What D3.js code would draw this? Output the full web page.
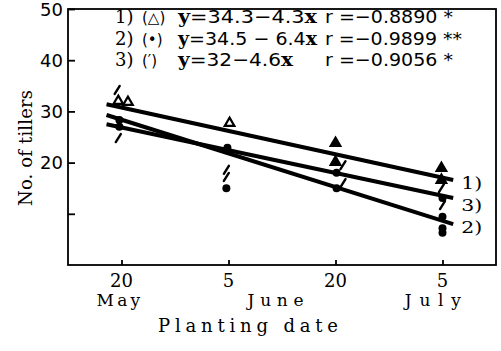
<!DOCTYPE html>
<html>
<head>
<meta charset="utf-8">
<script src="https://cdn.jsdelivr.net/npm/d3@7"></script>
<style>
  body{margin:0;background:#fff;}
  svg{display:block;}
  .lbl{font-family:"DejaVu Serif","Liberation Serif",serif;fill:#000;}
  .num{font-family:"DejaVu Sans","Liberation Sans",sans-serif;fill:#000;}
</style>
</head>
<body>
<div id="chart"></div>
<script>
// planting dates (period index) and labels
var dateTicks=[1,2,3,4]
var dayLabels=["20","5","20","5"]
var monthLabels=[{t:"May",x:0.97},{t:"June",x:2.44},{t:"July",x:3.91}]
var yTicks=[10,20,30,40,50]
var yLabels=["","20","30","40","50"]

// fitted lines as drawn (start / end)
var lineIds=["1)","2)","3)"]
var lineX=[0.86,4.1]
var line1=[31.4,16.6]
var line2=[29.3,8.0]
var line3=[27.5,13.1]

// observed points: triangles (1), dots (2), ticks (3)
var triPts=[[0.97,32.0],[1.06,31.8],[2.01,27.7],[3.0,23.8],[3.0,20.1],[3.99,18.9],[3.99,16.6]]
var triHollow=[true,true,true,false,false,false,false]
var dotPts=[[0.98,28.3],[0.98,27.0],[1.99,22.9],[1.98,15.0],[3.01,18.0],[3.01,15.0],[4.0,13.1],[4.0,9.4],[4.0,7.2],[4.0,6.3]]
var tickPts=[[0.96,34.2],[0.97,24.8],[1.98,18.6],[1.98,17.2],[3.07,19.5],[3.07,16.0],[3.99,15.0],[4.0,11.7]]

var legendRows=[
  {id:"1)",mk:"(\u25B3)",eq:"34.3\u22124.3",r:"r =\u22120.8890 *"},
  {id:"2)",mk:"(\u2022)",eq:"34.5 \u2212 6.4",r:"r =\u22120.9899 **"},
  {id:"3)",mk:"(\u2032)",eq:"32\u22124.6",r:"r =\u22120.9056 *"}
]

var W=501,H=351
var m={l:68,r:5,t:9,b:86}
var svg=d3.select("#chart").append("svg").attr("width",W).attr("height",H)

var x=d3.scaleLinear().domain([0.5,4.5]).range([m.l,W-m.r])
var y=d3.scaleLinear().domain([0,50]).range([H-m.b,m.t])

// frame
svg.append("rect").attr("x",x(0.5)).attr("y",y(50)).attr("width",x(4.5)-x(0.5)).attr("height",y(0)-y(50))
  .attr("fill","none").attr("stroke","#000").attr("stroke-width",1.8)

// y axis (ticks inward)
var yAx=svg.append("g").attr("transform",`translate(${x(0.5)},0)`)
  .call(d3.axisRight(y).tickValues(yTicks).tickSize(7).tickFormat(""))
yAx.select(".domain").remove()
yAx.selectAll("line").attr("stroke-width",1.8)
svg.selectAll(".ylab").data(yTicks).enter().append("text").attr("class","num ylab")
  .attr("x",x(0.5)-5).attr("y",d=>y(d)+6.5).attr("text-anchor","end")
  .style("font-size","18px").text((d,i)=>yLabels[i])

// x axis (ticks inward)
var xAx=svg.append("g").attr("transform",`translate(0,${y(0)})`)
  .call(d3.axisTop(x).tickValues(dateTicks).tickSize(5).tickFormat(""))
xAx.select(".domain").remove()
xAx.selectAll("line").attr("stroke-width",1.8)
svg.selectAll(".xlab").data(dateTicks).enter().append("text").attr("class","lbl xlab")
  .attr("x",d=>x(d)).attr("y",287).attr("text-anchor","middle")
  .style("font-size","18px").text((d,i)=>dayLabels[i])
svg.selectAll(".mlab").data(monthLabels).enter().append("text").attr("class","lbl mlab")
  .attr("x",d=>x(d.x)).attr("y",306).attr("text-anchor","middle")
  .style("font-size","17px").attr("textLength",d=>d.t.length*12.5+6).attr("lengthAdjust","spacing").text(d=>d.t)

svg.append("text").attr("class","lbl").attr("x",248).attr("y",332).attr("text-anchor","middle")
  .style("font-size","18px").attr("textLength",180).attr("lengthAdjust","spacing").text("Planting date")
svg.append("text").attr("class","lbl").attr("transform","translate(32,148) rotate(-90)").attr("text-anchor","middle")
  .style("font-size","18px").attr("textLength",116).attr("lengthAdjust","spacing").text("No. of tillers")

// regression lines
var lines=[line1,line2,line3]
svg.selectAll(".fit").data(lines).enter().append("line").attr("class","fit")
  .attr("x1",x(lineX[0])).attr("x2",x(lineX[1]))
  .attr("y1",d=>y(d[0])).attr("y2",d=>y(d[1]))
  .attr("stroke","#000").attr("stroke-width",4)

// line ids at right end
svg.selectAll(".lid").data(lines).enter().append("text").attr("class","lbl lid")
  .attr("x",x(lineX[1])+8).attr("y",(d,i)=>y(d[1])+(i==2?13:9))
  .style("font-size","17px").attr("textLength",21).attr("lengthAdjust","spacingAndGlyphs")
  .text((d,i)=>lineIds[i])

// points
var tri=d3.symbol().type(d3.symbolTriangle).size(40)
svg.selectAll(".tri").data(triPts).enter().append("path").attr("class","tri")
  .attr("d",tri).attr("transform",d=>`translate(${x(d[0])},${y(d[1])})`)
  .attr("fill",(d,i)=>triHollow[i]?"#fff":"#000").attr("stroke","#000").attr("stroke-width",2.2)
svg.selectAll(".dot").data(dotPts).enter().append("circle").attr("class","dot")
  .attr("cx",d=>x(d[0])).attr("cy",d=>y(d[1])).attr("r",4).attr("fill","#000")
svg.selectAll(".tk").data(tickPts).enter().append("line").attr("class","tk")
  .attr("x1",d=>x(d[0])-2.5).attr("x2",d=>x(d[0])+2.5)
  .attr("y1",d=>y(d[1])+4).attr("y2",d=>y(d[1])-4)
  .attr("stroke","#000").attr("stroke-width",2.4).attr("stroke-linecap","round")

// legend
var lg=svg.selectAll(".lg").data(legendRows).enter().append("g").attr("class","lg")
  .attr("transform",(d,i)=>`translate(0,${23+i*21.5})`)
lg.append("text").attr("class","lbl").attr("x",115).style("font-size","18px").text(d=>d.id)
lg.append("text").attr("class","num").attr("x",142).style("font-size","15px").text(d=>d.mk)
var eq=lg.append("text").attr("class","num").attr("x",178).style("font-size","18px")
  .attr("textLength",(d,i)=>i==2?115:139).attr("lengthAdjust","spacingAndGlyphs")
eq.append("tspan").attr("class","lbl").style("font-weight","bold").text("y")
eq.append("tspan").text(d=>"="+d.eq)
eq.append("tspan").attr("class","lbl").style("font-weight","bold").text("x")
lg.append("text").attr("class","num").attr("x",325).style("font-size","18px")
  .attr("textLength",(d,i)=>i==1?137:128).attr("lengthAdjust","spacingAndGlyphs").text(d=>d.r)
</script>
</body>
</html>
